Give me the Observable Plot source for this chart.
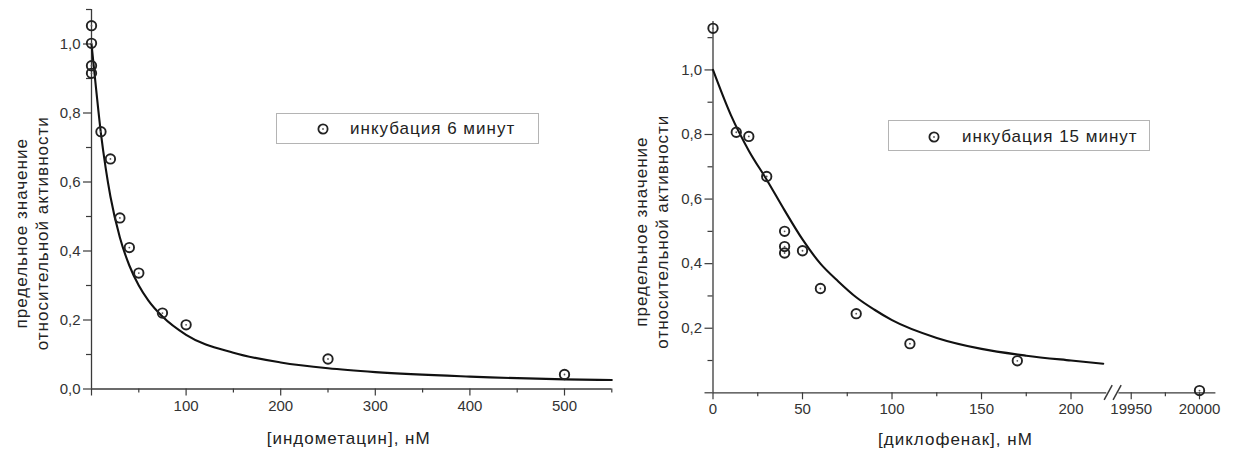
<!DOCTYPE html>
<html><head><meta charset="utf-8">
<script src="https://cdn.jsdelivr.net/npm/d3@7"></script>
<script src="https://cdn.jsdelivr.net/npm/@observablehq/plot@0.6"></script>
<style>
body{margin:0;background:#fff;}
#wrap{position:relative;width:1235px;height:453px;overflow:hidden;font-family:"Liberation Sans",Arial,sans-serif;background:#fff;}
.panel{position:absolute;top:0;}
.legend{position:absolute;border:1px solid #b4b4b4;box-sizing:border-box;background:#fff;}
.lsym{position:absolute;}
.ltxt{position:absolute;font-size:17px;letter-spacing:1px;color:#222;white-space:nowrap;line-height:17px;}
</style></head><body><div id="wrap"></div>
<script>
// ---- Left panel: indomethacin, 6 min incubation ----
const indoX = [0, 0, 0, 0, 10, 20, 30, 40, 50, 75, 100, 250, 500];
const indoY = [1.053, 1.002, 0.937, 0.915, 0.746, 0.667, 0.496, 0.41, 0.336, 0.22, 0.186, 0.087, 0.042];
const indoFitX = [0, 5, 10, 15, 20, 30, 40, 50, 60, 75, 100, 150, 200, 250, 300, 400, 500, 550];
const indoFitY = [1.0, 0.866, 0.74, 0.64, 0.558, 0.439, 0.358, 0.30, 0.257, 0.21, 0.157, 0.105, 0.077, 0.060, 0.049, 0.036, 0.028, 0.026];
const leftXLabels = [100, 200, 300, 400, 500];
const leftXBare = [0];
const leftXMinor = [50, 150, 250, 350, 450, 550];
const leftYLabels = [0, 0.2, 0.4, 0.6, 0.8, 1.0];
const leftYMinor = [0.1, 0.3, 0.5, 0.7, 0.9, 1.1];
const leftXTitle = "[индометацин], нМ";
const leftLegend = "инкубация 6 минут";

// ---- Right panel: diclofenac, 15 min incubation (broken x axis) ----
const dicloX = [0, 13, 20, 30, 40, 40, 40, 50, 60, 80, 110, 170, 20000];
const dicloY = [1.129, 0.807, 0.794, 0.67, 0.50, 0.453, 0.433, 0.44, 0.323, 0.245, 0.152, 0.099, 0.007];
const dicloFitX = [0, 10, 20, 30, 40, 50, 60, 70, 80, 90, 100, 125, 150, 175, 200, 218];
const dicloFitY = [1.0, 0.86, 0.75, 0.66, 0.565, 0.475, 0.40, 0.345, 0.296, 0.258, 0.225, 0.17, 0.136, 0.115, 0.10, 0.09];
const rightXLabels = [0, 50, 100, 150, 200, 19950, 20000];
const rightXMinor = [25, 75, 125, 175, 19975];
const rightYLabels = [0.2, 0.4, 0.6, 0.8, 1.0];
const rightYBare = [0];
const rightYMinor = [0.1, 0.3, 0.5, 0.7, 0.9, 1.1];
const rightXTitle = "[диклофенак], нМ";
const rightLegend = "инкубация 15 минут";
// axis break: first segment 0..220, second segment 19941..20012
const seg1 = [0, 220];
const seg2 = [19941, 20012];
const gapUnits = 6.76;        // blank width of the break, in first-segment units
const seg2Scale = 0.763;      // second segment is drawn a bit more compressed
// the two "//" break strokes, as offsets from the end of the first segment
const breakStrokes = [{a: -1.5, b: 3}, {a: 3.5, b: 8}];
const breakHalf = [-0.022, 0.024];

const yTitle = "предельное значение\nотносительной активности";

// map a value onto the broken axis (continuous position units)
function bx(v) {
  return v <= seg1[1] ? v : seg1[1] + gapUnits + (v - seg2[0]) * seg2Scale;
}

const fmt = d => d.toFixed(1).replace(".", ",");
const AX = "#3a3a3a";
const TXT = "#333";
const FONT = "'Liberation Sans', Arial, sans-serif";

function rows(xs, ys, fx = x => x) { return xs.map((x, i) => ({x: fx(x), y: ys[i]})); }

function dataMarks(px, py, fx, fy, map) {
  return [
    Plot.line(rows(fx, fy, map), {x: "x", y: "y", curve: "monotone-x", stroke: "#111", strokeWidth: 2.1}),
    Plot.dot(rows(px, py, map), {x: "x", y: "y", r: 4.7, stroke: "#222", strokeWidth: 1.9, fill: "none"}),
    Plot.dot(rows(px, py, map), {x: "x", y: "y", r: 0.9, fill: "#555", stroke: "none"})
  ];
}

const left = Plot.plot({
  width: 617, height: 453,
  marginLeft: 91, marginRight: 5.7, marginTop: 9, marginBottom: 64.5,
  style: {fontFamily: FONT, fontSize: "15px", color: TXT, background: "transparent", overflow: "visible"},
  x: {domain: [0, 550]},
  y: {domain: [0, 1.1]},
  marks: [
    Plot.ruleX([0], {stroke: AX, strokeWidth: 1.3}),
    Plot.ruleY([0], {stroke: AX, strokeWidth: 1.3}),
    Plot.axisY(leftYLabels, {tickSize: 8, tickPadding: 3, tickFormat: fmt, stroke: AX, fill: TXT, label: null, strokeWidth: 1.2}),
    Plot.axisY(leftYMinor, {tickSize: 5, tickFormat: () => "", stroke: AX, label: null, strokeWidth: 1.2}),
    Plot.axisX(leftXLabels, {tickSize: 7, tickPadding: 4, tickFormat: d => String(d), stroke: AX, fill: TXT, label: null, strokeWidth: 1.2}),
    Plot.axisX(leftXBare, {tickSize: 7, tickFormat: () => "", stroke: AX, label: null, strokeWidth: 1.2}),
    Plot.axisX(leftXMinor, {tickSize: 4, tickFormat: () => "", stroke: AX, label: null, strokeWidth: 1.2}),
    ...dataMarks(indoX, indoY, indoFitX, indoFitY),
    Plot.text([leftXTitle], {text: d => d, frameAnchor: "bottom", dy: 50, dx: -3, lineAnchor: "middle", fontSize: 17, fill: "#222"}),
    Plot.text([yTitle], {text: d => d, frameAnchor: "left", dx: -60.5, dy: 34, rotate: -90, textAnchor: "middle", lineAnchor: "middle", lineHeight: 1.24, fontSize: 17, fill: "#222"})
  ]
});

const rightLabelMap = new Map(rightXLabels.map(v => [bx(v), String(v)]));

const right = Plot.plot({
  width: 618, height: 453,
  marginLeft: 95.5, marginRight: 19.6, marginTop: 21, marginBottom: 60.7,
  style: {fontFamily: FONT, fontSize: "15px", color: TXT, background: "transparent", overflow: "visible"},
  x: {domain: [bx(seg1[0]), bx(seg2[1])]},
  y: {domain: [0, 1.15]},
  marks: [
    Plot.ruleX([0], {stroke: AX, strokeWidth: 1.3}),
    Plot.ruleY([seg1, seg2], {x1: d => bx(d[0]), x2: d => bx(d[1]), y: 0, stroke: AX, strokeWidth: 1.3}),
    Plot.link(breakStrokes, {x1: d => seg1[1] + d.a, x2: d => seg1[1] + d.b, y1: breakHalf[0], y2: breakHalf[1], stroke: AX, strokeWidth: 1.5}),
    Plot.axisY(rightYLabels, {tickSize: 8, tickPadding: 3, tickFormat: fmt, stroke: AX, fill: TXT, label: null, strokeWidth: 1.2}),
    Plot.axisY(rightYBare, {tickSize: 8, tickFormat: () => "", stroke: AX, label: null, strokeWidth: 1.2}),
    Plot.axisY(rightYMinor, {tickSize: 5, tickFormat: () => "", stroke: AX, label: null, strokeWidth: 1.2}),
    Plot.axisX(rightXLabels.map(bx), {tickSize: 7, tickPadding: 4, tickFormat: d => rightLabelMap.get(d), stroke: AX, fill: TXT, label: null, strokeWidth: 1.2}),
    Plot.axisX(rightXMinor.map(bx), {tickSize: 4, tickFormat: () => "", stroke: AX, label: null, strokeWidth: 1.2}),
    ...dataMarks(dicloX, dicloY, dicloFitX, dicloFitY, bx),
    Plot.text([rightXTitle], {text: d => d, frameAnchor: "bottom", dy: 47, dx: -9, lineAnchor: "middle", fontSize: 17, fill: "#222"}),
    Plot.text([yTitle], {text: d => d, frameAnchor: "left", dx: -62.5, dy: 24.5, rotate: -90, textAnchor: "middle", lineAnchor: "middle", lineHeight: 1.24, fontSize: 17, fill: "#222"})
  ]
});

for (const svg of [left, right]) {
  svg.querySelectorAll('[font-size="17"]').forEach(g => g.setAttribute("letter-spacing", "1"));
}

const wrap = document.getElementById("wrap");
left.classList.add("panel"); left.style.left = "0px";
right.classList.add("panel"); right.style.left = "617px";
wrap.appendChild(left);
wrap.appendChild(right);

function legend(boxL, boxT, boxW, boxH, symX, symY, txtX, label) {
  const box = document.createElement("div");
  box.className = "legend";
  Object.assign(box.style, {left: boxL + "px", top: boxT + "px", width: boxW + "px", height: boxH + "px"});
  wrap.appendChild(box);
  const ns = "http://www.w3.org/2000/svg";
  const s = document.createElementNS(ns, "svg");
  s.setAttribute("width", 14); s.setAttribute("height", 14);
  s.setAttribute("class", "lsym");
  s.style.left = (symX - 7) + "px"; s.style.top = (symY - 7) + "px";
  s.innerHTML = '<circle cx="7" cy="7" r="4.6" fill="none" stroke="#222" stroke-width="1.8"/><circle cx="7" cy="7" r="0.9" fill="#555"/>';
  wrap.appendChild(s);
  const t = document.createElement("div");
  t.className = "ltxt";
  t.textContent = label;
  t.style.left = txtX + "px"; t.style.top = (symY - 9) + "px";
  wrap.appendChild(t);
}
legend(276, 113, 263, 31, 323, 129, 350, leftLegend);
legend(888, 120, 262, 31, 934, 136.5, 962, rightLegend);
</script>
</body></html>
